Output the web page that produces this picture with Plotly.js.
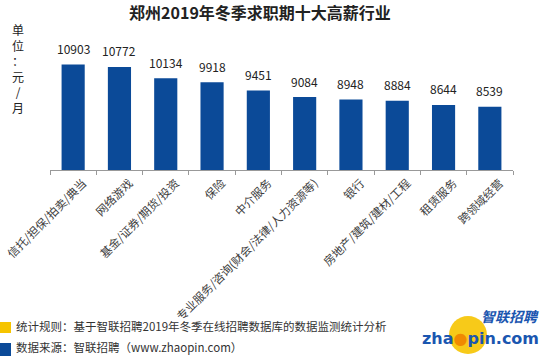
<!DOCTYPE html>
<html><head><meta charset="utf-8">
<script src="https://cdn.plot.ly/plotly-3.0.1.min.js"></script>
<style>html,body{margin:0;padding:0;background:#fff;}#chart{width:548px;height:356px;}</style>
</head><body><div id="chart"></div>
<script>
const categories = ["信托/担保/拍卖/典当","网络游戏","基金/证券/期货/投资","保险","中介服务","专业服务/咨询(财会/法律/人力资源等)","银行","房地产/建筑/建材/工程","租赁服务","跨领域经营"];
const salaries = [10903,10772,10134,9918,9451,9084,8948,8884,8644,8539];
const titleText = "郑州2019年冬季求职期十大高薪行业";
const unitText = "单位：元/月";
const note1 = "统计规则：基于智联招聘2019年冬季在线招聘数据库的数据监测统计分析";
const note2 = "数据来源：智联招聘（www.zhaopin.com）";

const W=548,H=356,L=50,R=35,T=45,B=186;
const pw=W-L-R, ph=H-T-B;
const px=x=>(x-L)/pw, py=y=>(H-B-y)/ph;
const font="'Noto Sans CJK SC','Noto Sans',sans-serif";
const blue="#0B4A98", gold="#F6C400";

const annotations = categories.map((c,i)=>({x:c,y:salaries[i],xref:'x',yref:'y',text:String(salaries[i]),showarrow:false,yanchor:'middle',yshift:16,font:{size:12,color:'#222',family:font}}));
annotations.push({xref:'paper',yref:'paper',x:px(18),y:py(19),text:[...unitText].join('<br>'),showarrow:false,xanchor:'center',yanchor:'top',font:{size:12,color:'#222',family:font}});
annotations.push({xref:'paper',yref:'paper',x:px(14),y:py(326),xanchor:'left',yanchor:'middle',text:note1,showarrow:false,font:{size:11.5,color:'#333',family:font}});
annotations.push({xref:'paper',yref:'paper',x:px(14),y:py(347),xanchor:'left',yanchor:'middle',text:note2,showarrow:false,font:{size:11.5,color:'#333',family:font}});
annotations.push({xref:'paper',yref:'paper',x:px(541),y:py(316),xanchor:'right',yanchor:'middle',text:'<b><i>智联招聘</i></b>',showarrow:false,font:{size:14,color:'#1a56b0',family:font}});
annotations.push({xref:'paper',yref:'paper',x:px(541),y:py(338),xanchor:'right',yanchor:'middle',text:'<b>zha<span style="color:#F08A00">●</span>pin.com</b>',showarrow:false,font:{size:16,color:'#1a56b0',family:"'DejaVu Sans',sans-serif"}});

const shapes=[
 {type:'circle',xref:'paper',yref:'paper',x0:px(449),x1:px(487),y0:py(316),y1:py(354),fillcolor:gold,line:{width:0},layer:'below',opacity:0.9},
 {type:'rect',xref:'paper',yref:'paper',x0:px(0),x1:px(11),y0:py(322),y1:py(333),fillcolor:gold,line:{width:0}},
 {type:'rect',xref:'paper',yref:'paper',x0:px(0),x1:px(11),y0:py(343),y1:py(356),fillcolor:blue,line:{width:0}}
];

Plotly.newPlot('chart',[{type:'bar',x:categories,y:salaries,marker:{color:blue},hoverinfo:'none'}],{
 width:W,height:H,margin:{l:L,r:R,t:T,b:B},paper_bgcolor:'#fff',plot_bgcolor:'#fff',
 title:{text:titleText,x:260/W,xref:'container',xanchor:'center',y:1-13/H,yref:'container',yanchor:'middle',font:{size:16,color:'#222',family:font,weight:'bold'}},
 bargap:0.5,showlegend:false,
 xaxis:{type:'category',showline:true,linecolor:'#999',linewidth:1,ticks:'outside',tickson:'boundaries',ticklen:4,tickcolor:'#999',tickangle:-45,ticklabelshift:10,ticklabelstandoff:1,tickfont:{size:11.5,color:'#404040',family:font},showgrid:false,fixedrange:true},
 yaxis:{visible:false,range:[5000,12000],fixedrange:true},
 annotations,shapes
},{staticPlot:true});
</script></body></html>
